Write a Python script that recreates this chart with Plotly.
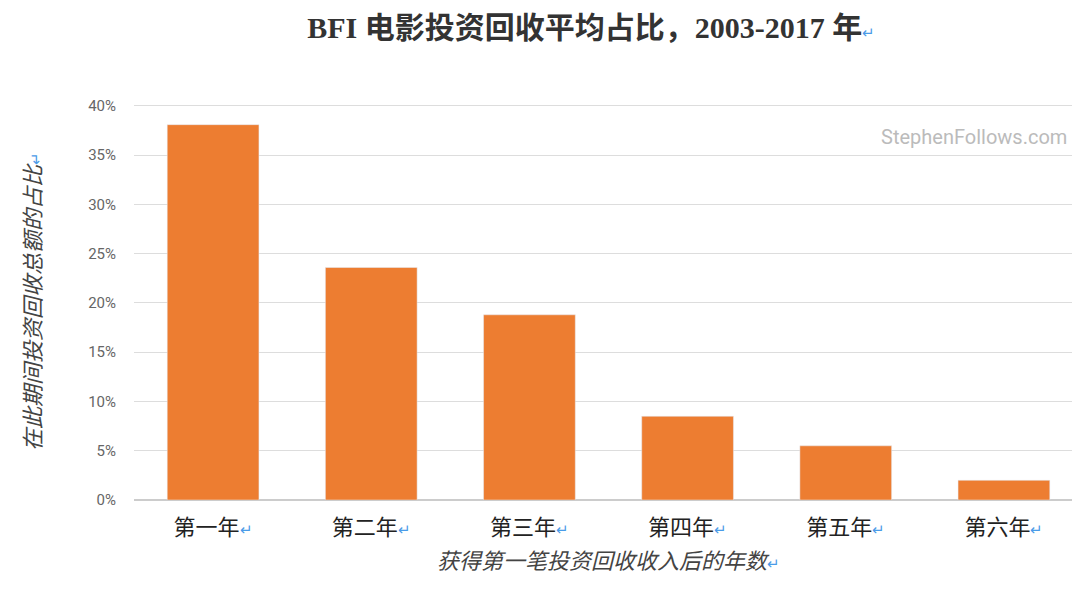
import plotly.graph_objects as go

ARROW = "<span style='color:#4a9be8;font-size:15px'>↵</span>"

categories = ["第一年", "第二年", "第三年", "第四年", "第五年", "第六年"]
shares = [0.381, 0.236, 0.188, 0.085, 0.055, 0.020]
tick_vals = [0, 0.05, 0.10, 0.15, 0.20, 0.25, 0.30, 0.35, 0.40]
tick_text = ["0%", "5%", "10%", "15%", "20%", "25%", "30%", "35%", "40%"]

fig = go.Figure(go.Bar(
    x=[c + ARROW for c in categories],
    y=shares,
    marker_color="#ed7d31",
    width=0.58,
))

fig.update_layout(
    width=1080,
    height=591,
    plot_bgcolor="white",
    paper_bgcolor="white",
    showlegend=False,
    margin=dict(l=126, r=5, t=95, b=99, autoexpand=False),
    title=dict(
        text="<b>BFI 电影投资回收平均占比，2003-2017 年</b>" + ARROW,
        x=0.54, y=0.985, yanchor="top", xanchor="center",
        font=dict(family="Liberation Serif, Noto Sans CJK SC", size=30, color="#333"),
    ),
    font=dict(family="Noto Sans CJK SC"),
    xaxis=dict(
        tickfont=dict(size=22, color="#222", family="Liberation Serif, Noto Sans CJK SC"),
        title=dict(text="<i>获得第一笔投资回收收入后的年数</i>" + ARROW,
                   font=dict(size=22, color="#444"), standoff=14),
        ticks="outside",
        ticklen=8,
        tickcolor="white",
        showline=False,
    ),
    yaxis=dict(
        range=[0, 0.403],
        tickvals=tick_vals,
        ticktext=tick_text,
        tickfont=dict(size=15, color="#666", family="Roboto"),
        gridcolor="#dddddd",
        zeroline=True,
        zerolinecolor="#cccccc",
        ticks="outside",
        ticklen=14,
        tickcolor="white",
        title=dict(text="<i>在此期间投资回收总额的占比</i>" + ARROW,
                   font=dict(size=22, color="#444"), standoff=40),
    ),
    annotations=[dict(
        text="StephenFollows.com", xref="paper", yref="paper",
        x=0.985, y=0.95, xanchor="right", showarrow=False,
        font=dict(family="Roboto", size=20, color="#bbbbbb"),
    )],
)

fig.write_html("out.html")
